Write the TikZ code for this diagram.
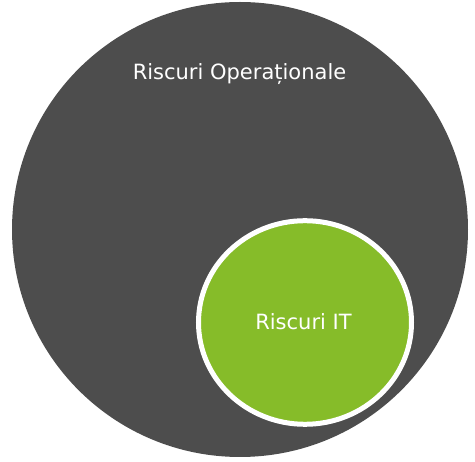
\documentclass[tikz,border=0pt]{standalone}
\usepackage{fontspec}
\setmainfont{DejaVu Sans}
\definecolor{darkgray}{HTML}{4D4D4D}
\definecolor{itgreen}{HTML}{86BC29}
\tikzset{
  lbl/.style={text=white, font=\fontsize{21}{25}\selectfont, inner sep=0pt, anchor=base},
}
\begin{document}
\begin{tikzpicture}[x=1pt,y=-1pt]
\useasboundingbox (0,0) rectangle (475,462);
\fill[darkgray] (240,229.5) ellipse [x radius=228, y radius=227.5];
\filldraw[fill=itgreen, draw=white, line width=5pt] (305,322.5) ellipse [x radius=106.5, y radius=101.8];
\node[lbl] (ops) at (239.5,80) {Riscuri Operaționale};
\node[lbl] (it) at (303.5,330) {Riscuri IT};
\end{tikzpicture}
\end{document}
